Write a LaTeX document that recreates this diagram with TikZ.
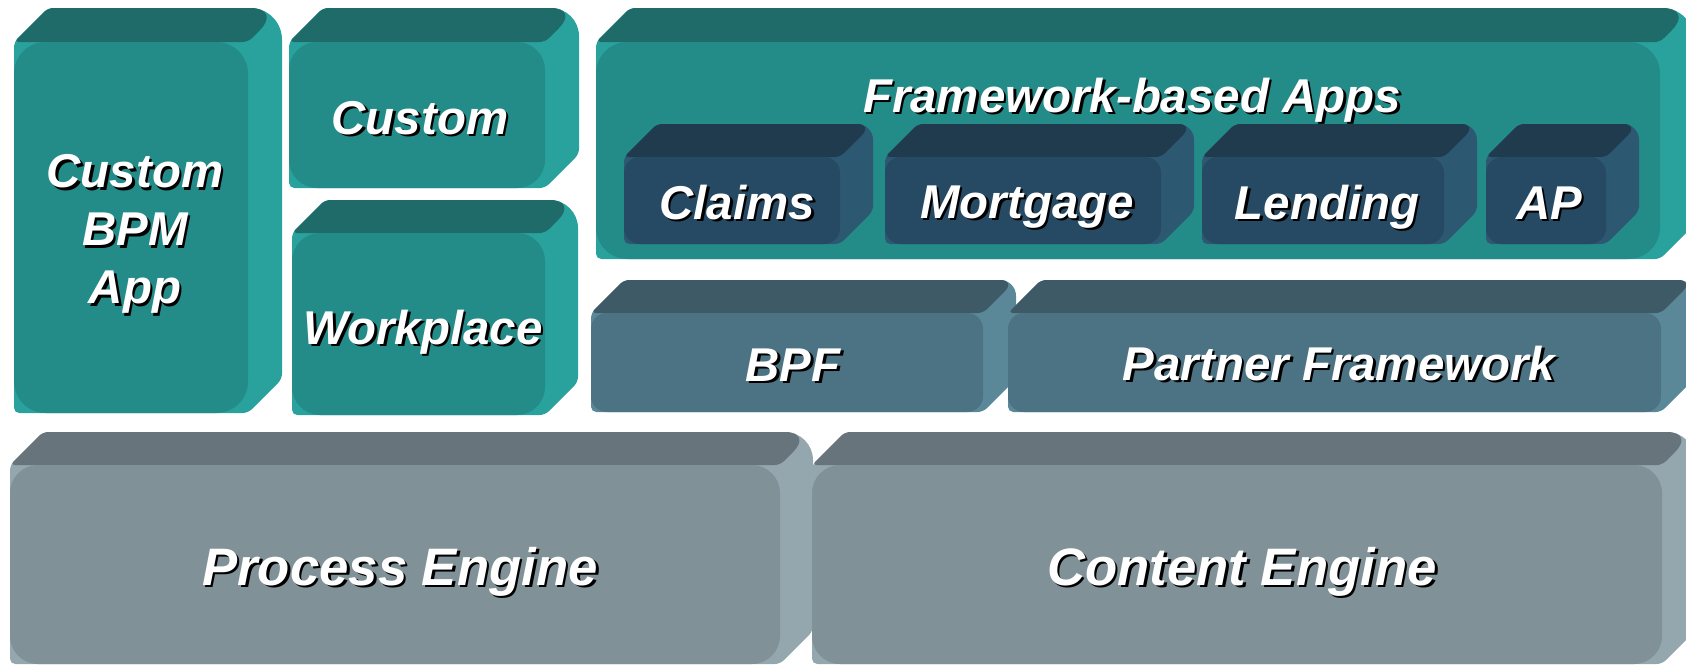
\documentclass[tikz,border=0pt]{standalone}
\usepackage{fontspec}
\setmainfont{Liberation Sans}
\definecolor{tealfront}{RGB}{36,140,136}
\definecolor{tealtop}{RGB}{30,107,106}
\definecolor{tealside}{RGB}{41,161,157}
\definecolor{navyfront}{RGB}{38,74,99}
\definecolor{navytop}{RGB}{32,58,78}
\definecolor{navyside}{RGB}{45,88,114}
\definecolor{slatefront}{RGB}{76,115,131}
\definecolor{slatetop}{RGB}{62,90,102}
\definecolor{slateside}{RGB}{91,136,153}
\definecolor{grayfront}{RGB}{128,146,152}
\definecolor{graytop}{RGB}{104,116,123}
\definecolor{grayside}{RGB}{148,166,174}
\tikzset{lbl/.style={text=white,align=center,inner sep=0pt,
    font=\fontsize{27}{33}\selectfont\bfseries\itshape},
  line/.style={text height=20pt,text depth=6pt},
  bigline/.style={font=\fontsize{30}{36}\selectfont\bfseries\itshape,
    text height=22pt,text depth=7pt}}
% block: x1, y1, x2, y2 of the front face, depth, colour, corner radius
\newcommand\blk[7]{%
  \fill[#6side,rounded corners=3pt](#1,#4)--(#1,#2)--(#1+#5,#2-#5)[rounded corners=#7]--(#3+#5,#2-#5)
    [rounded corners=3pt]--(#3+#5,#4-#5)--(#3,#4)--cycle;
  \fill[#6top,rounded corners=3pt](#1,#2)--(#1+#5,#2-#5)[rounded corners=#7]--(#3+#5,#2-#5)
    [rounded corners=3pt]--(#3,#2)--cycle;
  \fill[#6front,rounded corners=#7](#1,#2)rectangle(#3,#4);}
% label with a black drop shadow
\newcommand\lbl[4][line]{%
  \node[lbl,#1,text=black](#2-s)at([shift={(1.5pt,-1.5pt)}]#3){#4};
  \node[lbl,#1](#2)at(#3){#4};}
\begin{document}
\begin{tikzpicture}[x=0.02cm,y=-0.02cm]
            \useasboundingbox(0,0)rectangle(1686,666);
            \clip(0,0)rectangle(1686,666);
            % top row
            \blk{14}{42}{248}{413}{34}{teal}{18pt}
            \blk{289}{42}{545}{188}{34}{teal}{16pt}
            \blk{292}{233}{545}{415}{33}{teal}{16pt}
            \blk{596}{42}{1660}{259}{34}{teal}{18pt}
            \blk{624}{157}{840}{244}{33}{navy}{9pt}
            \blk{885}{157}{1161}{244}{33}{navy}{9pt}
            \blk{1202}{157}{1444}{244}{33}{navy}{9pt}
            \blk{1486}{157}{1606}{244}{33}{navy}{9pt}
            % frameworks
            \blk{591}{313}{983}{412}{33}{slate}{9pt}
            \blk{1008}{313}{1661}{412}{33}{slate}{9pt}
            % engines
            \blk{10}{465}{780}{664}{33}{gray}{16pt}
            \blk{812}{465}{1662}{664}{33}{gray}{16pt}
            \lbl[]{bpm}{135,234}{Custom\\BPM\\App}
            \lbl{custom}{420,122}{Custom}
            \lbl{workplace}{423,332}{Workplace}
            \lbl{apps}{1132,100}{Framework-based Apps}
            \lbl{claims}{737,207}{Claims}
            \lbl{mortgage}{1027,206}{Mortgage}
            \lbl{lending}{1327,207}{Lending}
            \lbl{ap}{1549,207}{AP}
            \lbl{bpf}{793,369}{BPF}
            \lbl{partner}{1339,368}{Partner Framework}
            \lbl[bigline]{process}{400,572}{Process Engine}
            \lbl[bigline]{content}{1242,572}{Content Engine}
\end{tikzpicture}
\end{document}
